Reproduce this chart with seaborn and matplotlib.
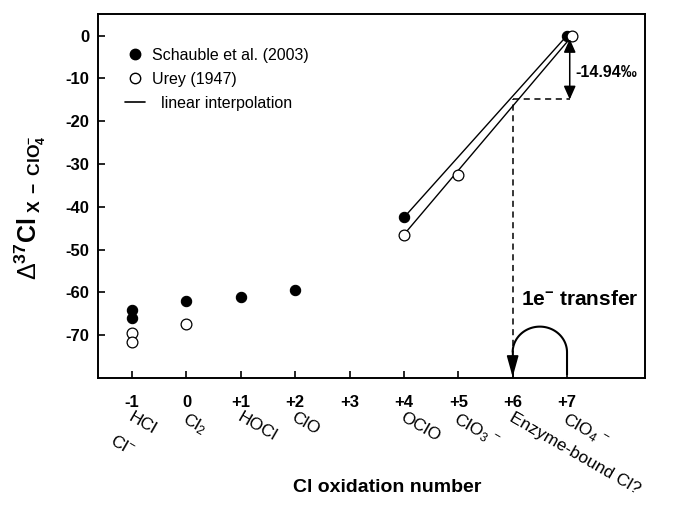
import numpy as np
import pandas as pd
import matplotlib
matplotlib.use('Agg')
import matplotlib.pyplot as plt
from matplotlib.lines import Line2D
import seaborn as sns

# Chlorine isotope fractionation vs oxidation state
ox_schauble = [-1, -1, 0, 1, 2, 4, 7]
d37_schauble = [-64.0, -66.0, -62.0, -61.0, -59.5, -42.5, 0.0]
ox_urey = [-1, -1, 0, 4, 5, 7]
d37_urey = [-69.5, -71.5, -67.5, -46.5, -32.5, 0.0]

ox_ticks = [-1, 0, 1, 2, 3, 4, 5, 6, 7]
ox_tick_labels = ['-1', '0', '+1', '+2', '+3', '+4', '+5', '+6', '+7']
species = ['HCl', 'Cl$_2$', 'HOCl', 'ClO', '', 'OClO', 'ClO$_3$$^{\\,-}$',
           'Enzyme-bound Cl?', 'ClO$_4$$^{\\,-}$']
species_extra = ['Cl$^{-}$']  # second label under -1

enzyme_ox = 6
enzyme_delta = -14.94

sns.set_style('ticks')
plt.rcParams['font.family'] = ['Liberation Sans', 'DejaVu Sans']
plt.rcParams['text.color'] = 'black'
plt.rcParams['mathtext.fontset'] = 'custom'
plt.rcParams['mathtext.rm'] = 'Liberation Sans'
plt.rcParams['mathtext.it'] = 'Liberation Sans:italic'
plt.rcParams['mathtext.bf'] = 'Liberation Sans:bold'

fig = plt.figure(figsize=(6.75, 5.05), dpi=100)
ax = fig.add_axes([0.145, 0.2515, 0.811, 0.7205])

# the Urey +7 point is drawn slightly to the right so both circles show
urey_x = np.array(ox_urey, dtype=float)
urey_x[-1] += 0.1

df_s = pd.DataFrame({'ox': ox_schauble, 'd37': d37_schauble})
df_u = pd.DataFrame({'ox': urey_x, 'd37': d37_urey})

# linear interpolation between +4 and +7
s_fit = df_s[df_s['ox'] >= 4].iloc[[0, -1]]
u_fit = df_u[df_u['ox'] >= 4].iloc[[0, -1]]
ax.plot(s_fit['ox'], s_fit['d37'], color='black', lw=1.0, zorder=2)
ax.plot(u_fit['ox'], u_fit['d37'], color='black', lw=1.0, zorder=2)

sns.scatterplot(data=df_s, x='ox', y='d37', ax=ax, s=55, color='black',
                edgecolor='black', linewidth=0.8, zorder=3)
sns.scatterplot(data=df_u, x='ox', y='d37', ax=ax, s=60, facecolor='white',
                edgecolor='black', linewidth=0.9, zorder=3)

ax.set_xlim(-1.63, 8.44)
ax.set_ylim(-80, 5)
ax.set_xticks(ox_ticks)
ax.set_xticklabels(ox_tick_labels, fontweight='bold', fontsize=12)
ax.set_yticks(np.arange(-70, 1, 10))
ax.set_yticklabels([str(v) for v in range(-70, 1, 10)], fontweight='bold', fontsize=12)
ax.tick_params(axis='both', direction='in', length=5, width=1.2,
               colors='black', labelcolor='black')
ax.tick_params(axis='x', pad=12)
ax.tick_params(axis='y', pad=6)
for sp in ax.spines.values():
    sp.set_visible(True)
    sp.set_linewidth(1.4)
    sp.set_color('black')
ax.set_xlabel('')
ax.set_ylabel('')

# species labels under the tick labels
trans = ax.get_xaxis_transform()
for xv, lab in zip(ox_ticks, species):
    if not lab:
        continue
    ax.annotate(lab, xy=(xv, 0), xycoords=trans, xytext=(1, -23),
                textcoords='offset points', ha='left', va='top',
                rotation=-30, rotation_mode='anchor', fontsize=12.5,
                color='black', annotation_clip=False)
ax.annotate(species_extra[0], xy=(-1, 0), xycoords=trans, xytext=(-12, -39),
            textcoords='offset points', ha='left', va='top',
            rotation=-30, rotation_mode='anchor', fontsize=12.5,
            color='black', annotation_clip=False)

# dashed guides at the enzyme-bound intermediate
ax.plot([enzyme_ox, enzyme_ox], [-80, enzyme_delta], color='black', lw=1.1,
        ls=(0, (4, 3)), zorder=1)
ax.plot([enzyme_ox, 7.05], [enzyme_delta, enzyme_delta], color='black', lw=1.1,
        ls=(0, (4, 3)), zorder=1)
ax.annotate('', xy=(7.05, -0.8), xytext=(7.05, enzyme_delta),
            arrowprops=dict(arrowstyle='<|-|>,head_length=0.45,head_width=0.2',
                            mutation_scale=18, color='black', lw=1.1,
                            shrinkA=0, shrinkB=0))
ax.text(7.15, -8.6, f'{enzyme_delta:.2f}\u2030', fontsize=11.5, fontweight='bold',
        ha='left', va='center')

# one-electron transfer arch
theta = np.linspace(0, np.pi, 80)
arch_x = np.concatenate([[7.0], 6.5 + 0.5 * np.cos(theta)])
arch_y = np.concatenate([[-79.3], -74.0 + 6.0 * np.sin(theta)])
ax.plot(arch_x, arch_y, color='black', lw=1.5, solid_capstyle='butt')
ax.annotate('', xy=(6.0, -79.8), xytext=(6.0, -74.0),
            arrowprops=dict(arrowstyle='-|>,head_length=0.65,head_width=0.18',
                            mutation_scale=20, color='black', lw=1.2,
                            shrinkA=0, shrinkB=0))
ax.text(6.15, -61.6, r'1e$^{\mathbf{-}}$ transfer', fontsize=15,
        fontweight='bold', ha='left', va='center')

# legend
handles = [
    Line2D([], [], marker='o', ls='', color='black', markersize=7.5),
    Line2D([], [], marker='o', ls='', markerfacecolor='white',
           markeredgecolor='black', markersize=7.5),
    Line2D([], [], color='black', lw=1.2),
]
labels = ['Schauble et al. (2003)', 'Urey (1947)', '  linear interpolation']
ax.legend(handles, labels, loc='upper left', bbox_to_anchor=(0.049, 0.907),
          frameon=False, fontsize=11.5, handlelength=1.25, handletextpad=0.45,
          labelspacing=0.55, borderpad=0, borderaxespad=0, labelcolor='black')

fig.text(387 / 675, 1 - 487 / 505, 'Cl oxidation number', fontsize=14,
         fontweight='bold', ha='center', va='center')
fig.text(30 / 675, 1 - 208 / 505,
         r'$\Delta^{\mathbf{37}}\mathbf{Cl}_{\mathbf{\ X\ -\ ClO}_{\mathbf{4}}^{\mathbf{-}}}$',
         fontsize=18, rotation=90, ha='center', va='center')

fig.savefig('out.png', dpi=100)
